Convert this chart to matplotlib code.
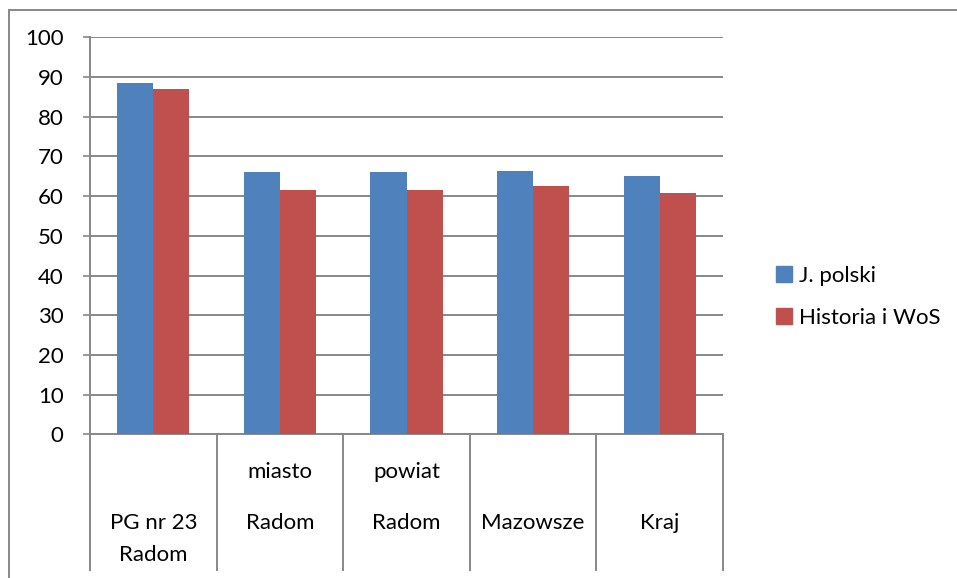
import matplotlib.pyplot as plt
import matplotlib.transforms as mtransforms
from matplotlib.lines import Line2D
from matplotlib.patches import Patch
import numpy as np

plt.rcParams['font.family'] = ['Lato', 'DejaVu Sans']

categories = ["PG nr 23\nRadom", "miasto\nRadom", "powiat\nRadom", "Mazowsze", "Kraj"]
j_polski = [88.6, 66.0, 66.0, 66.4, 65.0]
historia_wos = [87.1, 61.5, 61.5, 62.5, 60.9]
series_names = ["J. polski", "Historia i WoS"]
yticks = [0, 10, 20, 30, 40, 50, 60, 70, 80, 90, 100]

blue = '#4F81BD'
red = '#C0504D'
grid_col = '#888888'
fs = 16

W, H = 957, 578
fig = plt.figure(figsize=(W / 100, H / 100), dpi=100)
ax = fig.add_axes([90 / W, (H - 434.3) / H, (723 - 90) / W, (434.3 - 37.3) / H])

x = np.arange(len(categories))
bw = 1 / 3.5
ax.bar(x - bw / 2, j_polski, bw, color=blue, zorder=3)
ax.bar(x + bw / 2, historia_wos, bw, color=red, zorder=3)

ax.set_xlim(-0.5, len(categories) - 0.5)
ax.set_ylim(0, 100)
ax.set_yticks(yticks)
ax.set_yticklabels([str(v) for v in yticks])
ax.yaxis.grid(True, color=grid_col, linewidth=1.4, zorder=0)
ax.tick_params(axis='y', length=5, width=1.2, color=grid_col, pad=14, labelsize=fs)
ax.set_xticks([])
for s in ['top', 'right']:
    ax.spines[s].set_visible(False)
for s in ['left', 'bottom']:
    ax.spines[s].set_color(grid_col)
    ax.spines[s].set_linewidth(1.4)

# category separators extending under the axis
trans = mtransforms.blended_transform_factory(ax.transData, ax.transAxes)
y_low = (434.3 - 570) / 397.0
for b in np.arange(len(categories) + 1) - 0.5:
    ax.plot([b, b], [0, y_low], color=grid_col, lw=1.4, transform=trans, clip_on=False)

# category labels
def px_to_axes(py):
    return (434.3 - py) / 397.0

for i, lab in enumerate(categories):
    lines = lab.split('\n')
    if len(lines) == 1:
        rows = [(lines[0], 523)]
    elif lines[0].startswith('PG'):
        rows = [(lines[0], 523), (lines[1], 555)]
    else:
        rows = [(lines[0], 472), (lines[1], 523)]
    for txt, py in rows:
        ax.text(i, px_to_axes(py), txt, transform=trans, ha='center', va='center',
                fontsize=fs, clip_on=False)

# chart border (left and top visible)
fig.add_artist(Line2D([9 / W, 9 / W], [0, (H - 10) / H], color=grid_col, lw=1.4))
fig.add_artist(Line2D([9 / W, 1], [(H - 10) / H, (H - 10) / H], color=grid_col, lw=1.4))

handles = [Patch(color=blue), Patch(color=red)]
fig.legend(handles, series_names, loc='center left', bbox_to_anchor=(756 / W, (H - 297) / H),
           frameon=False, fontsize=fs, handlelength=0.72, handleheight=0.72,
           handletextpad=0.3, labelspacing=1.0)

fig.savefig('out.png', dpi=100)
